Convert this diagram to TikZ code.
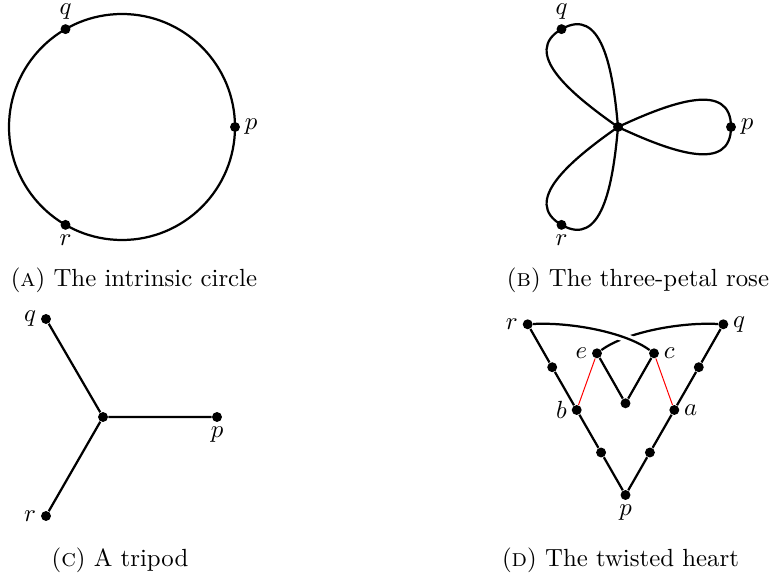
\documentclass[tikz,border=0pt]{standalone}
\usetikzlibrary{calc}
\begin{document}
\begin{tikzpicture}[x=0.403pt,y=-0.403pt,
  dot/.style={circle,fill=black,inner sep=0pt,minimum size=4pt},
  every label/.style={inner sep=0.5pt},
  label distance=1.1pt,
  edge/.style={line width=0.9pt,black},
  redge/.style={line width=0.4pt,red},
  captext/.style={anchor=base,inner sep=0pt}]
\useasboundingbox (0,0) rectangle (769,577);

% ---------- (A) circle ----------
\draw[edge] (122,127) circle[radius=113*0.403pt];
\node[dot,label={above:$q$}] (Aq) at ({122+113*cos(120)},{127-113*sin(120)}) {};
\node[dot,label={right:$p$}] (Ap) at (235,127) {};
\node[dot,label={below:$r$}] (Ar) at ({122+113*cos(240)},{127-113*sin(240)}) {};
\node[captext] (capA) at (134,287) {(\textsc{a})\ The intrinsic circle};

% ---------- (B) rose ----------
\node[dot] (Bo) at (618,127) {};
\node[dot,label={right:$p$}] (Bp) at (731,127) {};
\node[dot,label={above:$q$}] (Bq) at ({618+113*cos(120)},{127-113*sin(120)}) {};
\node[dot,label={below:$r$}] (Br) at ({618+113*cos(240)},{127-113*sin(240)}) {};
\foreach \ang/\tip in {0/Bp,120/Bq,240/Br}{
  \draw[edge] (Bo.center)
    .. controls ({618+54.4*cos(\ang)-25.4*sin(\ang)},{127-(54.4*sin(\ang)+25.4*cos(\ang))})
    and ({618+113*cos(\ang)-46*sin(\ang)},{127-(113*sin(\ang)+46*cos(\ang))}) .. (\tip.center)
    .. controls ({618+113*cos(\ang)+46*sin(\ang)},{127-(113*sin(\ang)-46*cos(\ang))})
    and ({618+54.4*cos(\ang)+25.4*sin(\ang)},{127-(54.4*sin(\ang)-25.4*cos(\ang))}) .. (Bo.center);
}
\node[captext] (capB) at (638,287) {(\textsc{b})\ The three-petal rose};

% ---------- (C) tripod ----------
\node[dot] (Co) at (103,417) {};
\node[dot,label={below:$p$}] (Cp) at (217,417) {};
\node[dot,label={left:$q$}] (Cq) at (46,319) {};
\node[dot,label={left:$r$}] (Cr) at (46,516) {};
\draw[edge] (Cq) -- (Co) -- (Cp);
\draw[edge] (Cr) -- (Co);
\node[captext] (capC) at (120,566) {(\textsc{c})\ A tripod};

% ---------- (D) twisted heart ----------
\node[dot,label={left:$r$}] (Dr) at (527.7,324.3) {};
\node[dot,label={right:$q$}] (Dq) at (723.3,324.3) {};
\node[dot,label={left:$e$}] (De) at (597,353.3) {};
\node[dot,label={right:$c$}] (Dc) at (654,353.3) {};
\node[dot] (Dm) at (625.5,403.3) {};
\node[dot,label={left:$b$}] (Db) at (576.7,410) {};
\node[dot,label={right:$a$}] (Da) at (674.3,410) {};
\node[dot,label={below:$p$}] (Dp) at (625.5,495) {};
\node[dot] (D1) at (552.2,367.2) {};
\node[dot] (D2) at (698.8,367.2) {};
\node[dot] (D3) at (601.1,452.5) {};
\node[dot] (D4) at (649.9,452.5) {};

\draw[edge] (Dq) .. controls (681,322) and (626,332) .. (De);
\draw[edge,preaction={draw=white,line width=3.4pt}] (Dr) .. controls (570,322) and (625,332) .. (Dc);
\draw[edge] (De) -- (Dm) -- (Dc);
\draw[redge] (De) -- (Db);
\draw[redge] (Dc) -- (Da);
\draw[edge] (Dr) -- (D1) -- (Db) -- (D3) -- (Dp) -- (D4) -- (Da) -- (D2) -- (Dq);
\node[captext] (capD) at (620.5,566) {(\textsc{d})\ The twisted heart};
\end{tikzpicture}
\end{document}
